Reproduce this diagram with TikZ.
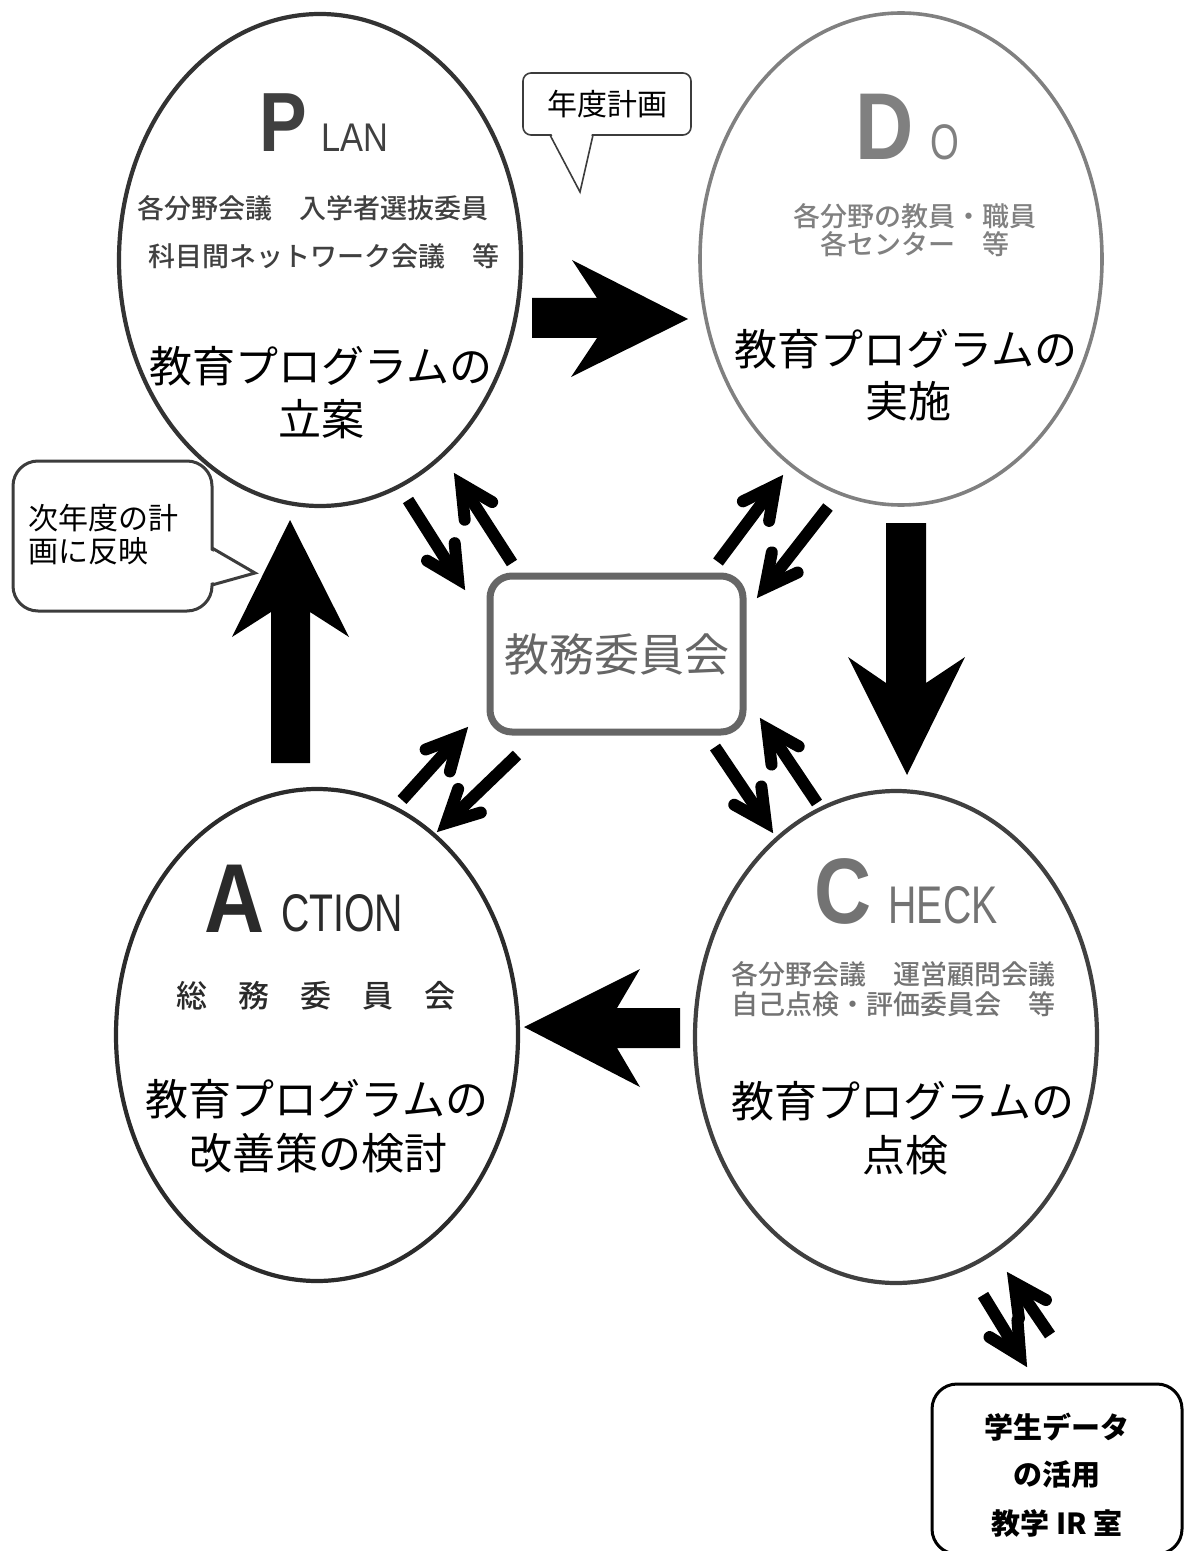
\documentclass[tikz,border=0pt]{standalone}
\usepackage{fontspec}
\setmainfont{Noto Sans CJK JP}
\newfontfamily\jpmed{Noto Sans CJK JP Medium}
\newfontfamily\bigltr[FakeStretch=0.85]{Liberation Sans}
\newfontfamily\smltr[FakeStretch=0.74]{Liberation Sans}
\newfontfamily\smltrw[FakeStretch=0.86]{Liberation Sans}
\usetikzlibrary{shapes.geometric,calc}
\newcommand\setfs[1]{\fontsize{#1pt}{#1pt}\selectfont}
\definecolor{planline}{HTML}{333333}
\definecolor{plantxt}{HTML}{404040}
\definecolor{doline}{HTML}{808080}
\definecolor{dotxt}{HTML}{808080}
\definecolor{checkline}{HTML}{404040}
\definecolor{checktxt}{HTML}{737373}
\definecolor{actline}{HTML}{2B2B2B}
\definecolor{acttxt}{HTML}{2A2A2A}
\definecolor{boxgray}{HTML}{666666}
\definecolor{calloutline}{HTML}{3C3C3C}
\begin{document}
\begin{tikzpicture}[x=0.5pt,y=-0.5pt,
  ell/.style={ellipse, inner sep=0pt, minimum width=201pt, minimum height=246pt, line width=2.1pt},
  maintxt/.style={font=\setfs{21.5}, inner sep=0pt, text=black},
  subtxt/.style={font=\jpmed\setfs{13.5}, inner sep=0pt},
  bigletter/.style={font=\bigltr\bfseries\setfs{#1}, inner sep=0pt, anchor=base},
  smallword/.style={font=\smltr\setfs{#1}, inner sep=0pt, anchor=base},
  shaftline/.style={line width=6pt, line cap=butt},
  barbline/.style={line width=6pt, line cap=round, line join=miter, miter limit=20},
  blockarrow/.style={fill=black, draw=none}
]
\useasboundingbox (0,0) rectangle (1184,1551);

% ---------- ellipses ----------
\node[ell, draw=planline] (plan) at (320,260) {};
\node[ell, draw=doline, line width=1.8pt] (do) at (901,259) {};
\node[ell, draw=checkline] (check) at (896,1037) {};
\node[ell, draw=actline] (action) at (317,1035) {};

% ---------- PLAN ----------
\node[bigletter=42, text=plantxt] (pP) at (283,152) {P};
\node[inner sep=0pt, anchor=base, font=\smltrw\setfs{20}, text=plantxt] (pLAN) at (355,152) {LAN};
\node[subtxt, text=plantxt] (psub1) at (313,208) {各分野会議　入学者選抜委員};
\node[subtxt, text=plantxt] (psub2) at (324,256) {科目間ネットワーク会議　等};
\node[maintxt] (pmain1) at (321,366) {教育プログラムの};
\node[maintxt] (pmain2) at (321,419) {立案};

% ---------- DO ----------
\node[bigletter=47.5, text=dotxt] (dD) at (885,160) {D};
\node[smallword=25, text=dotxt] (dO) at (945,160) {O};
\node[subtxt, text=dotxt] (dsub1) at (915,216) {各分野の教員・職員};
\node[subtxt, text=dotxt] (dsub2) at (915,244) {各センター　等};
\node[maintxt] (dmain1) at (906,349) {教育プログラムの};
\node[maintxt] (dmain2) at (908,401) {実施};

% ---------- CHECK ----------
\node[bigletter=46.5, text=checktxt] (cC) at (843,923) {C};
\node[smallword=26.5, text=checktxt] (cHECK) at (943,923) {HECK};
\node[subtxt, text=checktxt] (csub1) at (893,974) {各分野会議　運営顧問会議};
\node[subtxt, text=checktxt] (csub2) at (893,1004) {自己点検・評価委員会　等};
\node[maintxt] (cmain1) at (903,1101) {教育プログラムの};
\node[maintxt] (cmain2) at (905,1155) {点検};

% ---------- ACTION ----------
\node[bigletter=49, text=acttxt] (aA) at (235,932) {A};
\node[smallword=26.5, text=acttxt] (aCTION) at (342,931) {CTION};
\node[inner sep=0pt, font=\jpmed\setfs{15.5}, text=acttxt] (asub) at (316,996) {総　務　委　員　会};
\node[maintxt] (amain1) at (317,1099) {教育プログラムの};
\node[maintxt] (amain2) at (318,1153) {改善策の検討};

% ---------- big block arrows ----------
\fill[blockarrow] (532,298) -- (597,298) -- (572,260) -- (688,319) -- (571,377) -- (597,338) -- (532,338) -- cycle;
\fill[blockarrow] (886,523) -- (926,523) -- (926,683) -- (965,657) -- (907,775) -- (848,657) -- (886,683) -- cycle;
\fill[blockarrow] (680,1008) -- (617,1008) -- (640,969) -- (524,1027) -- (640,1087) -- (617,1048) -- (680,1048) -- cycle;
\fill[blockarrow] (271,763) -- (271,612) -- (232,637) -- (290,520) -- (349,637) -- (310,612) -- (310,763) -- cycle;

% ---------- center box ----------
\node[draw=boxgray, line width=3.5pt, rounded corners=11pt, minimum width=126.5pt, minimum height=78pt,
      inner sep=0pt, text=boxgray, font=\setfs{22.5}] (kyomu) at (616.5,654) {教務委員会};

% ---------- small arrows ----------
\coordinate (a1s) at (408,500); \coordinate (a1e) at (465,590);
\coordinate (a2s) at (512,563); \coordinate (a2e) at (454,473);
\coordinate (b1s) at (718,562); \coordinate (b1e) at (783,475);
\coordinate (b2s) at (828,507); \coordinate (b2e) at (757,598);
\coordinate (c1s) at (402,800); \coordinate (c1e) at (468,727);
\coordinate (c2s) at (517,755); \coordinate (c2e) at (437,832);
\coordinate (d1s) at (715,747); \coordinate (d1e) at (773,833);
\coordinate (d2s) at (817,803); \coordinate (d2e) at (760,718);
\coordinate (e1s) at (1050,1335); \coordinate (e1e) at (1007,1272);
\coordinate (e2s) at (983,1295); \coordinate (e2e) at (1027,1367);
\foreach \n in {a1,a2,b1,b2,c1,c2,d1,d2,e1,e2}{
  \coordinate (\n v) at ($(\n e)!6.5pt!(\n s)$);
  \draw[shaftline] (\n s) -- (\n v);
  \draw[barbline] ($(\n v)!18pt!27:(\n s)$) -- (\n v) -- ($(\n v)!18pt!-27:(\n s)$);
}

% ---------- callout 年度計画 ----------
\node[draw=calloutline, line width=0.8pt, rounded corners=4pt, fill=white, minimum width=84pt,
      minimum height=31pt, inner sep=0pt, font=\setfs{15}] (nendo) at (607,104) {年度計画};
\coordinate (nt1) at (550,135); \coordinate (ntip) at (580,192); \coordinate (nt2) at (593,135);
\fill[white] (551,133) -- (580,190) -- (592,133) -- cycle;
\draw[calloutline, line width=0.8pt, line join=miter] (nt1) -- (ntip) -- (nt2);

% ---------- callout 次年度 ----------
\node[draw=calloutline, line width=1.5pt, rounded corners=12.5pt, fill=white, minimum width=99.5pt,
      minimum height=75pt, inner sep=0pt] (jinen) at (112.5,536) {};
\coordinate (jt1) at (212,548); \coordinate (jtip) at (255,573); \coordinate (jt2) at (212,585);
\fill[white] (210,550) -- (253,573) -- (210,583) -- cycle;
\draw[calloutline, line width=1.5pt, line join=miter] (jt1) -- (jtip) -- (jt2);
\node[anchor=west, inner sep=0pt, font=\setfs{15}] (jl1) at (28,518) {次年度の計};
\node[anchor=west, inner sep=0pt, font=\setfs{15}] (jl2) at (28,551) {画に反映};

% ---------- data box ----------
\node[draw=black, line width=1.5pt, rounded corners=12.5pt, minimum width=125pt, minimum height=85pt,
      inner sep=0pt] (data) at (1057,1469) {};
\node[inner sep=0pt, font=\bfseries\setfs{14.5}] (dl1) at (1057,1427) {学生データ};
\node[inner sep=0pt, font=\bfseries\setfs{14.5}] (dl2) at (1057,1475) {の活用};
\node[inner sep=0pt, font=\bfseries\setfs{14.5}] (dl3) at (1057,1523) {教学 IR 室};
\end{tikzpicture}
\end{document}
